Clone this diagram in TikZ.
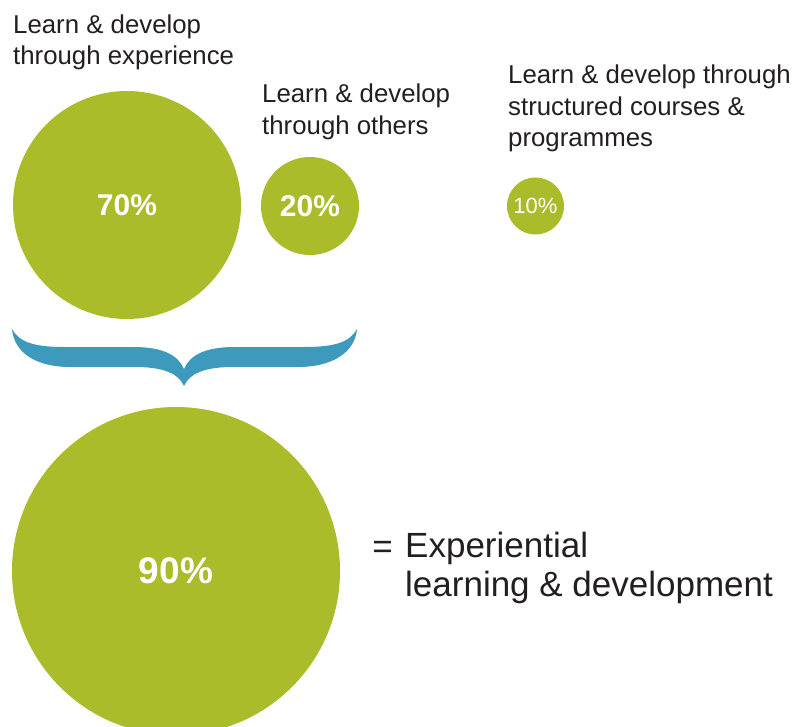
\documentclass[tikz,border=0pt]{standalone}
\usepackage{fontspec}
\setmainfont{Liberation Sans}
\definecolor{leaf}{RGB}{170,188,41}
\definecolor{bracket}{RGB}{61,154,188}
\definecolor{ink}{RGB}{35,31,32}
\begin{document}
\begin{tikzpicture}[x=1pt,y=-1pt,
  bubble/.style={circle,fill=leaf,draw=none,inner sep=0pt,text=white},
  caption/.style={anchor=north west,inner sep=0pt,align=left,text=ink,
    font=\fontsize{25.8}{31.5}\selectfont},
  pct/.style={font=\fontsize{30}{30}\selectfont\bfseries}]
\useasboundingbox (0,0) rectangle (794,727);
\clip (0,0) rectangle (794,727);
\fill[white] (0,0) rectangle (794,727);

% the three source circles
\node[bubble,pct,minimum size=228pt] (exp) at (127,205) {70\%};
\node[bubble,pct,minimum size=98pt] (oth) at (310,206) {20\%};
\node[bubble,minimum size=57pt,font=\fontsize{22}{22}\selectfont] (crs) at (535.5,206) {10\%};

% captions
\node[caption] (tExp) at (13,14.5) {Learn \& develop\\through experience};
\node[caption] (tOth) at (262,84) {Learn \& develop\\through others};
\node[caption] (tCrs) at (508,65) {Learn \& develop through\\structured courses \&\\programmes};

% curly bracket gathering 70% and 20%
\fill[bracket] (12,329)
  .. controls (14,352) and (35,367) .. (70,367) -- (135,367)
  .. controls (160,367) and (178,372) .. (184,386)
  .. controls (190,372) and (208,367) .. (233,367) -- (298,367)
  .. controls (333,367) and (355,352) .. (357,329)
  .. controls (350,342) and (335,347) .. (305,347) -- (235,347)
  .. controls (205,347) and (190,355) .. (184,369)
  .. controls (178,355) and (163,347) .. (133,347) -- (64,347)
  .. controls (34,347) and (19,342) .. (12,329) -- cycle;

% combined circle
\node[bubble,minimum size=328pt,font=\fontsize{37}{37}\selectfont\bfseries] (all) at (176,571) {90\%};

% result text
\node[caption,font=\fontsize{35}{38.5}\selectfont] (tAll) at (405,532) {Experiential\\learning \& development};
\node[anchor=base east,inner sep=0pt,text=ink,font=\fontsize{35}{35}\selectfont] (eq) at ([xshift=-12pt]tAll.north west |- 0,558) {=};
\end{tikzpicture}
\end{document}
